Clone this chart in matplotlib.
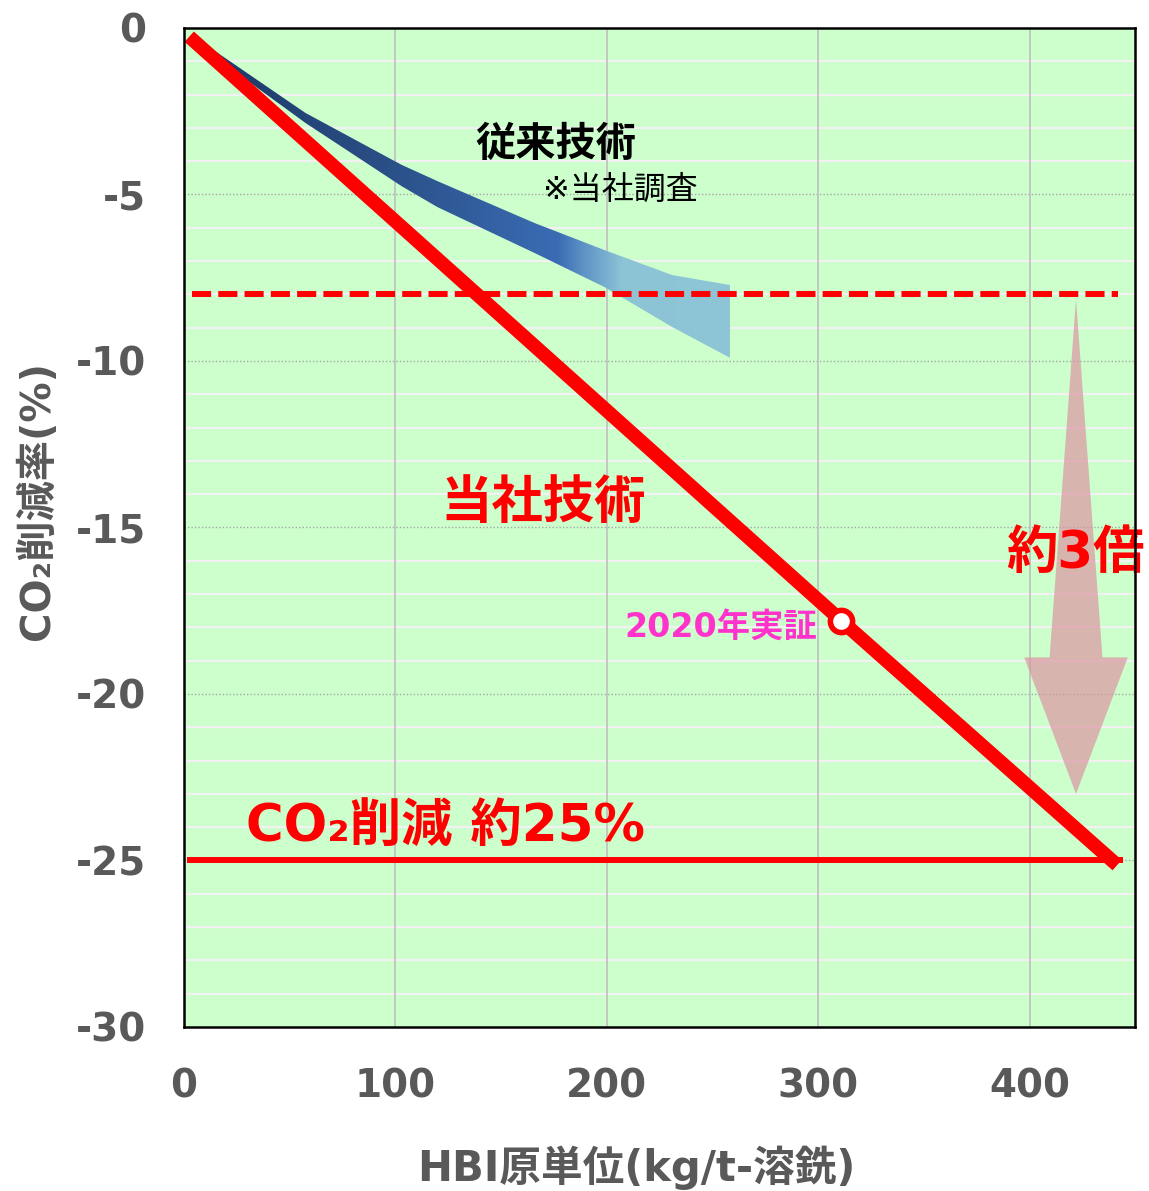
import numpy as np
import matplotlib.pyplot as plt
from matplotlib.patches import Polygon
from matplotlib.colors import LinearSegmentedColormap

plt.rcParams['font.family'] = ['DejaVu Sans', 'Noto Sans CJK JP']
plt.rcParams['axes.unicode_minus'] = False

# conventional technology band (upper / lower edge)
band_x = [5, 57.5, 103, 120, 166, 199, 231, 258.5]
band_upper = [-0.27, -2.55, -4.11, -4.6, -5.86, -6.67, -7.42, -7.72]
band_lower = [-0.42, -2.85, -4.75, -5.38, -6.76, -7.78, -8.98, -9.91]

# our technology line
ours_x = [5, 311, 439]
ours_y = [-0.4, -17.8, -25.0]
demo_x, demo_y = 311, -17.8

target_old = -8.0
target_new = -25.0
line_x = [4, 442]

xticks = [0, 100, 200, 300, 400]
yticks = [0, -5, -10, -15, -20, -25, -30]

grey = '#595959'
red = '#ff0000'

fig = plt.figure(figsize=(11.49, 11.91), dpi=100)
ax = fig.add_axes([0.160, 0.1377, 0.828, 0.8388])
ax.set_facecolor('#ccffcc')
ax.set_xlim(0, 450)
ax.set_ylim(-30, 0)

# minor white grid, dotted major grid
for y in range(-29, 0):
    if y % 5 != 0:
        ax.axhline(y, color='#f2f2f2', lw=1.6, zorder=1)
for y in yticks[1:-1]:
    ax.axhline(y, color='#a6a6a6', lw=1.0, ls=(0, (1, 1.5)), zorder=1)
for x in xticks[1:]:
    ax.axvline(x, color='#bfbfbf', lw=1.2, zorder=1)

# gradient band
verts = list(zip(band_x, band_upper)) + list(zip(band_x[::-1], band_lower[::-1]))
band = Polygon(verts, closed=True, facecolor='none', edgecolor='none')
ax.add_patch(band)
cmap = LinearSegmentedColormap.from_list('band', [
    (0.0, '#1b3764'), (0.35, '#2a4f86'), (0.68, '#3a6cb4'),
    (0.73, '#5f94c6'), (0.80, '#8cc4d6'), (1.0, '#8ec6d6')])
grad = np.linspace(0, 1, 256).reshape(1, -1)
im = ax.imshow(grad, cmap=cmap, aspect='auto', zorder=2,
               extent=[band_x[0], band_x[-1], min(band_lower), max(band_upper)])
im.set_clip_path(band)

# arrow
x0, top, base, tip, sw, hw = 422, -8.15, -18.9, -23.0, 12.5, 24.5
arrow = Polygon([(x0, top), (x0 + sw, base), (x0 + hw, base), (x0, tip),
                 (x0 - hw, base), (x0 - sw, base)], closed=True,
                facecolor='#dc94a2', edgecolor='none', alpha=0.7, zorder=2)
ax.add_patch(arrow)

ax.plot(line_x, [target_old, target_old], color=red, lw=4.3, ls=(0, (3.2, 1.2)), zorder=3)
ax.plot([line_x[0] - 1, line_x[1] + 1], [target_new, target_new], color=red, lw=4.3, zorder=3)
ax.plot(ours_x, ours_y, color=red, lw=10, solid_capstyle='projecting', zorder=4)
ax.plot(demo_x, demo_y, 'o', ms=16, mfc='white', mec=red, mew=4, zorder=5)

ax.text(176, -3.51, '従来技術', fontsize=29, fontweight='bold', color='black',
        ha='center', va='center', zorder=6)
ax.text(206.6, -4.86, '※当社調査', fontsize=23, color='black',
        ha='center', va='center', zorder=6)
ax.text(170, -14.3, '当社技術', fontsize=37, fontweight='bold', color=red,
        ha='center', va='center', zorder=6)
ax.text(421.7, -15.8, '約3倍', fontsize=37, fontweight='bold', color=red,
        ha='center', va='center', zorder=6, clip_on=False)
ax.text(253.8, -18.0, '2020年実証', fontsize=24, fontweight='bold', color='#ff33cc',
        ha='center', va='center', zorder=6)
ax.text(124, -24.0, 'CO₂削減 約25%', fontsize=37, fontweight='bold', color=red,
        ha='center', va='center', zorder=6)

ax.set_xticks(xticks)
ax.set_xticklabels([str(v) for v in xticks])
ax.set_yticks(yticks)
ax.set_yticklabels([str(v) for v in yticks])
ax.tick_params(length=0, labelsize=28, labelcolor=grey, pad=27)
ax.tick_params(axis='x', pad=29)
for lab in ax.get_xticklabels() + ax.get_yticklabels():
    lab.set_fontweight('bold')

ax.set_xlabel('HBI原単位(kg/t-溶銑)', fontsize=30, fontweight='bold', color=grey,
              va='center')
ax.xaxis.set_label_coords(0.476, -0.141)
ax.set_ylabel('CO₂削減率(%)', fontsize=29, fontweight='bold', color=grey,
              va='center')
ax.yaxis.set_label_coords(-0.153, 0.527)

for s in ax.spines.values():
    s.set_color('black')
    s.set_linewidth(1.8)
    s.set_zorder(7)

fig.savefig('out.png', dpi=100)
